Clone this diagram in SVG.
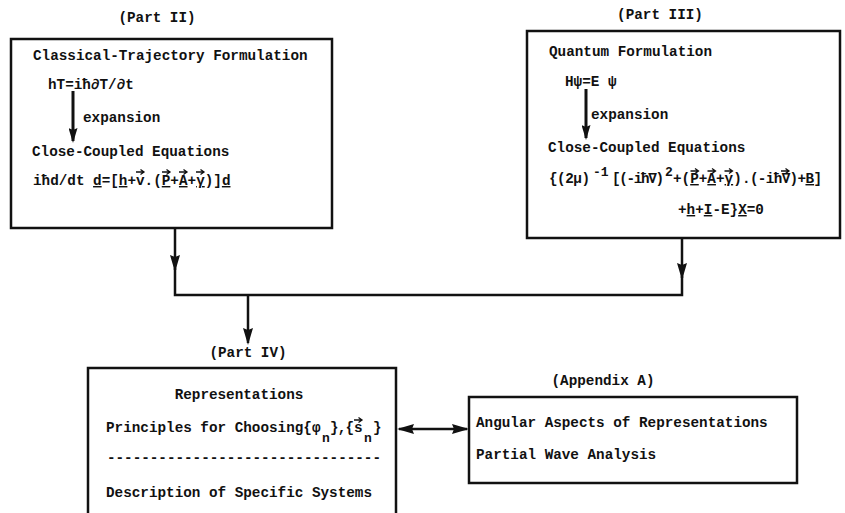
<svg xmlns="http://www.w3.org/2000/svg" width="845" height="513" viewBox="0 0 845 513">
<style>
.t{font-family:"Liberation Mono","DejaVu Sans Mono",monospace;font-weight:bold;font-size:14.3px;fill:#111}
.s{font-size:13px}
.m{text-anchor:middle}
.u{text-decoration:underline}
.box{fill:none;stroke:#111;stroke-width:2.5}
.c{fill:none;stroke:#111;stroke-width:2.5}
.ia{fill:none;stroke:#111;stroke-width:3}
.acc{fill:none;stroke:#111;stroke-width:1.3}
</style>
<defs>
<marker id="ah" markerUnits="userSpaceOnUse" markerWidth="17" markerHeight="10" refX="15" refY="5" orient="auto-start-reverse">
<path d="M0,0 L17,5 L0,10 L2,5 z" fill="#111"/>
</marker>
<marker id="ahs" markerUnits="userSpaceOnUse" markerWidth="15" markerHeight="9" refX="13" refY="4.5" orient="auto">
<path d="M0,0 L15,4.5 L0,9 L2,4.5 z" fill="#111"/>
</marker>
</defs>

<g id="part2">
<text class="t m" x="157" y="22">(Part II)</text>
<rect class="box" x="11" y="39" width="321" height="189"/>
<text class="t" x="33" y="60">Classical-Trajectory Formulation</text>
<text class="t" x="48" y="89">hT=iħ∂T/∂t</text>
<path class="ia" d="M73,91 V141" marker-end="url(#ahs)"/>
<text class="t" x="83" y="122">expansion</text>
<text class="t" x="32" y="156">Close-Coupled Equations</text>
<text class="t" x="33" y="185">iħd/dt <tspan class="u">d</tspan>=[<tspan class="u">h</tspan>+v.(<tspan class="u">P</tspan>+<tspan class="u">A</tspan>+<tspan class="u">γ</tspan>)]<tspan class="u">d</tspan></text>
<path class="acc" d="M136,172 h8 M140.5,169.5 L144,172 L140.5,174.5 M162,172 h8 M166.5,169.5 L170,172 L166.5,174.5 M179,172 h8 M183.5,169.5 L187,172 L183.5,174.5 M196,172 h8 M200.5,169.5 L204,172 L200.5,174.5"/>
</g>

<g id="part3">
<text class="t m" x="660" y="19">(Part III)</text>
<rect class="box" x="527" y="31" width="313" height="207"/>
<text class="t" x="549" y="56">Quantum Formulation</text>
<text class="t" x="565" y="86">Hψ=E ψ</text>
<path class="ia" d="M586,89 V138" marker-end="url(#ahs)"/>
<text class="t" x="591" y="119">expansion</text>
<text class="t" x="548" y="152">Close-Coupled Equations</text>
<text class="t" x="549" y="183" textLength="41" lengthAdjust="spacing">{(2μ)</text>
<text class="t s" x="593" y="176">-1</text>
<text class="t" x="612" y="183" textLength="52" lengthAdjust="spacing">[(-iħ∇)</text>
<text class="t s" x="665" y="176">2</text>
<text class="t" x="673" y="183">+(<tspan class="u">P</tspan>+<tspan class="u">A</tspan>+<tspan class="u">γ</tspan>)</text>
<text class="t" x="742" y="183" textLength="80" lengthAdjust="spacing">.(-iħ∇)+<tspan class="u">B</tspan>]</text>
<path class="acc" d="M690.5,171 h8 M695,168.5 L698.5,171 L695,173.5 M707.5,171 h8 M712,168.5 L715.5,171 L712,173.5 M724.5,171 h8 M729,168.5 L732.5,171 L729,173.5 M781,171 h8 M785.5,168.5 L789,171 L785.5,173.5"/>
<text class="t" x="678" y="214">+<tspan class="u">h</tspan>+<tspan class="u">I</tspan>-E}<tspan class="u">X</tspan>=0</text>
</g>

<g id="part4">
<text class="t m" x="248" y="357">(Part IV)</text>
<path class="box" d="M88,514 V368 H396 V514"/>
<text class="t m" x="239" y="399">Representations</text>
<text class="t" x="106" y="432">Principles for Choosing{φ</text>
<text class="t s" x="322" y="442">n</text>
<text class="t" x="330" y="432" textLength="24" lengthAdjust="spacing">},{</text>
<text class="t" x="354" y="432">s</text>
<text class="t s" x="364" y="442">n</text>
<text class="t" x="373" y="432">}</text>
<path class="acc" d="M354,420 h8 M358.5,417.5 L362,420 L358.5,422.5"/>
<text class="t" x="107" y="462" textLength="274" lengthAdjust="spacing">--------------------------------</text>
<text class="t" x="106" y="497">Description of Specific Systems</text>
</g>

<g id="appendixA">
<text class="t m" x="603" y="385">(Appendix A)</text>
<rect class="box" x="469" y="397" width="328" height="86"/>
<text class="t" x="476" y="427">Angular Aspects of Representations</text>
<text class="t" x="476" y="459">Partial Wave Analysis</text>
</g>

<g id="connectors">
<path class="c" d="M175,228 V270" marker-end="url(#ah)"/>
<path class="c" d="M682,238 V278" marker-end="url(#ah)"/>
<path class="c" d="M175,268 V295 H682 V276"/>
<path class="c" d="M248,295 V343" marker-end="url(#ah)"/>
<path class="c" d="M399,429 H467" marker-start="url(#ah)" marker-end="url(#ah)"/>
</g>
</svg>
